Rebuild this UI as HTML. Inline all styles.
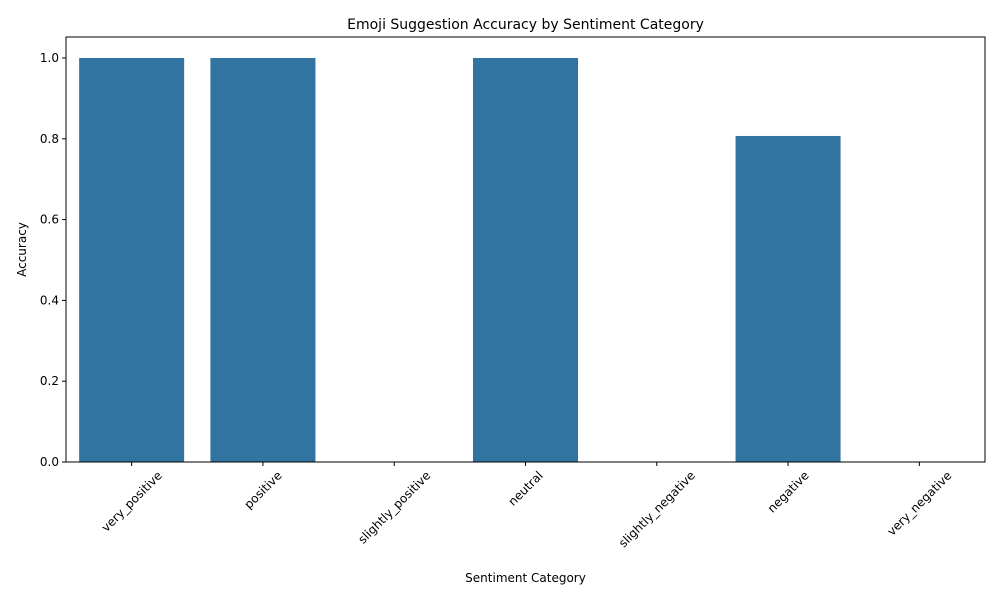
<!DOCTYPE html>
<html><head><meta charset="utf-8"><style>
body{margin:0;background:#fff;}
svg{display:block;font-family:"DejaVu Sans","Liberation Sans",sans-serif;}
</style></head><body>
<svg id="chart" width="1000" height="600" viewBox="0 0 1000 600">
<text x="525.5" y="29" text-anchor="middle" font-size="14">Emoji Suggestion Accuracy by Sentiment Category</text>
<g id="bars"></g><g id="xticks"></g><g id="yticks"></g>
<rect x="66" y="37" width="919" height="425" fill="none" stroke="#000" stroke-width="1"/>
<text x="525.5" y="582" text-anchor="middle" font-size="12">Sentiment Category</text>
<text transform="translate(26,249.5) rotate(-90)" text-anchor="middle" font-size="12">Accuracy</text>
</svg>
<script>
const categories=["very_positive","positive","slightly_positive","neutral","slightly_negative","negative","very_negative"];
const values=[1.0,1.0,0,1.0,0,0.807,0];
const yTickValues=[0,0.2,0.4,0.6,0.8,1.0];
const yTickLabels=["0.0","0.2","0.4","0.6","0.8","1.0"];
const NS="http://www.w3.org/2000/svg";
const L=66,R=985,T=37,B=462,Y0=462,Y1=58;
const step=(R-L)/categories.length;
const xC=i=>L+step*(i+0.5);
const yS=v=>Y0-(Y0-Y1)*v;
function mk(t,a,p){const e=document.createElementNS(NS,t);for(const k in a)e.setAttribute(k,a[k]);p.appendChild(e);return e;}
const gb=document.getElementById('bars'),gx=document.getElementById('xticks'),gy=document.getElementById('yticks');
categories.forEach((c,i)=>{
  const w=step*0.8,y=yS(values[i]);
  const r=mk('rect',{x:xC(i)-w/2,y:y,width:w,height:Y0-y,fill:'#3274a1'},gb);
  
  
  const tk=mk('line',{x1:xC(i),x2:xC(i),y1:B,y2:B+4,stroke:'#000'},gx);
  
  
  const tx=mk('text',{'font-size':12,'text-anchor':'middle',dy:'0.35em'},gx);
  tx.textContent=c;
  
  
  const len=tx.getComputedTextLength();
  const cy=B+7+(len+12)*0.7071/2;
  tx.setAttribute('transform',`translate(${xC(i)},${cy}) rotate(-45)`);
});
yTickValues.forEach((v,i)=>{
  const y=yS(v);
  const tk=mk('line',{x1:L-4,x2:L,y1:y,y2:y,stroke:'#000'},gy);
  
  
  const tx=mk('text',{x:L-7,y:y+4,'font-size':12,'text-anchor':'end'},gy);
  tx.textContent=yTickLabels[i];
  
  
});
</script>
</body></html>
